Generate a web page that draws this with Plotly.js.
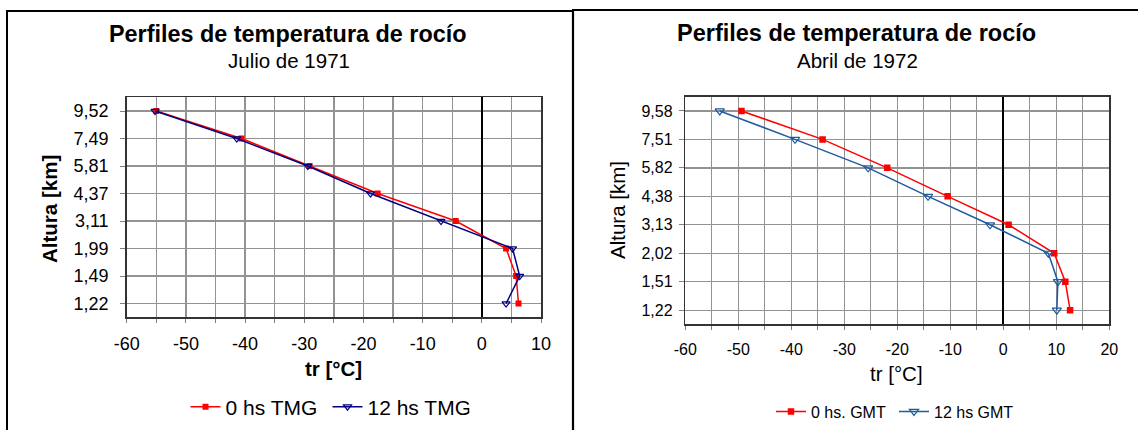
<!DOCTYPE html>
<html>
<head>
<meta charset="utf-8">
<script src="https://cdn.plot.ly/plotly-3.0.1.min.js"></script>
<style>
html,body{margin:0;padding:0;background:#fff;}
#chart{width:1138px;height:430px;}
</style>
</head>
<body>
<div id="chart"></div>
<script>
// ---- Data ----
var levelsJul = ['1,22','1,49','1,99','3,11','4,37','5,81','7,49','9,52'];
var jul0hs   = [6.2, 5.8, 4.1, -4.4, -17.6, -29.1, -40.6, -55.0];
var jul12hs  = [4.1, 6.4, 5.2, -6.9, -18.8, -29.4, -41.4, -55.2];

var levelsAbr = ['1,22','1,51','2,02','3,13','4,38','5,82','7,51','9,58'];
var abr0hs   = [12.6, 11.7, 9.6, 1.0, -10.5, -21.9, -34.1, -49.4];
var abr12hs  = [10.1, 10.3, 8.5, -2.5, -14.2, -25.5, -39.3, -53.5];

var xTicksLeft  = [-60,-55,-50,-45,-40,-35,-30,-25,-20,-15,-10,-5,0,5,10];
var xLabelsLeft = ['-60','','-50','','-40','','-30','','-20','','-10','','0','','10'];
var xTicksRight  = [-60,-55,-50,-45,-40,-35,-30,-25,-20,-15,-10,-5,0,5,10,15,20];
var xLabelsRight = ['-60','','-50','','-40','','-30','','-20','','-10','','0','','10','','20'];

// ---- Layout helpers ----
var W = 1138, H = 430;
function px(x){ return x / W; }
function py(y){ return 1 - y / H; }
var FONT = 'Liberation Sans, Arial, sans-serif';

var traces = [
  {x: jul0hs, y: levelsJul, name: '0 hs TMG', xaxis: 'x', yaxis: 'y', legend: 'legend',
   type: 'scatter', mode: 'lines+markers',
   line: {color: '#ff0000', width: 1.5},
   marker: {symbol: 'square', size: 6, color: '#ff0000'}},
  {x: jul12hs, y: levelsJul, name: '12 hs TMG', xaxis: 'x', yaxis: 'y', legend: 'legend',
   type: 'scatter', mode: 'lines+markers',
   line: {color: '#000080', width: 1.5},
   marker: {symbol: 'triangle-down-open', size: 7, color: '#000080', line: {width: 1.2, color: '#000080'}}},
  {x: abr0hs, y: levelsAbr, name: '0 hs. GMT', xaxis: 'x2', yaxis: 'y2', legend: 'legend2',
   type: 'scatter', mode: 'lines+markers',
   line: {color: '#ff0000', width: 1.5},
   marker: {symbol: 'square', size: 6.5, color: '#ff0000'}},
  {x: abr12hs, y: levelsAbr, name: '12 hs GMT', xaxis: 'x2', yaxis: 'y2', legend: 'legend2',
   type: 'scatter', mode: 'lines+markers',
   line: {color: '#1f5c9e', width: 1.5},
   marker: {symbol: 'triangle-down-open', size: 8, color: '#1f5c9e', line: {width: 1.2, color: '#1f5c9e'}}}
];

function xAxis(dom, range, tv, tt, fs, anchor){
  return {
    domain: dom, range: range, anchor: anchor, fixedrange: true,
    tickmode: 'array', tickvals: tv, ticktext: tt,
    ticks: 'outside', ticklen: 4, tickwidth: 1, tickcolor: '#808080',
    ticklabelstandoff: 6,
    tickfont: {family: FONT, size: fs, color: '#000'},
    showgrid: true, gridcolor: '#939393', gridwidth: 1.3,
    zeroline: true, zerolinecolor: '#000', zerolinewidth: 1.6,
    showline: true, linecolor: '#333', linewidth: 1.5, mirror: true
  };
}
function yAxis(dom, cats, fs, anchor, standoff){
  return {
    domain: dom, type: 'category', categoryorder: 'array', categoryarray: cats,
    range: [-0.5, 7.5], anchor: anchor, fixedrange: true,
    ticks: 'outside', ticklen: 5, tickwidth: 1, tickcolor: '#808080',
    ticklabelstandoff: standoff,
    tickfont: {family: FONT, size: fs, color: '#000'},
    showgrid: true, gridcolor: '#939393', gridwidth: 1.3,
    showline: true, linecolor: '#333', linewidth: 1.5, mirror: true
  };
}

var layout = {
  width: W, height: H,
  margin: {l: 0, r: 0, t: 0, b: 0},
  paper_bgcolor: '#fff', plot_bgcolor: '#fff',
  font: {family: FONT, color: '#000'},
  showlegend: true,
  xaxis: xAxis([px(126.7), px(541)], [-60, 10], xTicksLeft, xLabelsLeft, 18, 'y'),
  yaxis: yAxis([py(317.3), py(97.3)], levelsJul, 18, 'x', 8),
  xaxis2: xAxis([px(685.3), px(1109.3)], [-60, 20], xTicksRight, xLabelsRight, 16, 'y2'),
  yaxis2: yAxis([py(324.4), py(96.7)], levelsAbr, 16, 'x2', 3),
  legend: {orientation: 'h', x: px(185.5), y: py(407), xanchor: 'left', yanchor: 'middle',
           font: {family: FONT, size: 21, color: '#000'}, bgcolor: 'rgba(0,0,0,0)',
           entrywidth: 97, entrywidthmode: 'pixels'},
  legend2: {orientation: 'h', x: px(771), y: py(411.5), xanchor: 'left', yanchor: 'middle',
           font: {family: FONT, size: 16, color: '#000'}, bgcolor: 'rgba(0,0,0,0)',
           entrywidth: 78, entrywidthmode: 'pixels'},
  annotations: [
    {text: '<b>Perfiles de temperatura de rocío</b>', x: px(287.5), y: py(34), xref: 'paper', yref: 'paper',
     xanchor: 'center', yanchor: 'middle', showarrow: false, font: {family: FONT, size: 23.4, color: '#000'}},
    {text: 'Julio de 1971', x: px(289), y: py(60), xref: 'paper', yref: 'paper',
     xanchor: 'center', yanchor: 'middle', showarrow: false, font: {family: FONT, size: 20.5, color: '#000'}},
    {text: '<b>Perfiles de temperatura de rocío</b>', x: px(856.7), y: py(33.5), xref: 'paper', yref: 'paper',
     xanchor: 'center', yanchor: 'middle', showarrow: false, font: {family: FONT, size: 23.5, color: '#000'}},
    {text: 'Abril de 1972', x: px(857.5), y: py(60), xref: 'paper', yref: 'paper',
     xanchor: 'center', yanchor: 'middle', showarrow: false, font: {family: FONT, size: 20.5, color: '#000'}},
    {text: '<b>Altura [km]</b>', x: px(50), y: py(209), xref: 'paper', yref: 'paper', textangle: -90,
     xanchor: 'center', yanchor: 'middle', showarrow: false, font: {family: FONT, size: 20.5, color: '#000'}},
    {text: 'Altura [km]', x: px(617), y: py(210), xref: 'paper', yref: 'paper', textangle: -90,
     xanchor: 'center', yanchor: 'middle', showarrow: false, font: {family: FONT, size: 20.5, color: '#000'}},
    {text: '<b>tr [°C]</b>', x: px(333), y: py(368), xref: 'paper', yref: 'paper',
     xanchor: 'center', yanchor: 'middle', showarrow: false, font: {family: FONT, size: 20.5, color: '#000'}},
    {text: 'tr [°C]', x: px(896), y: py(373), xref: 'paper', yref: 'paper',
     xanchor: 'center', yanchor: 'middle', showarrow: false, font: {family: FONT, size: 20.5, color: '#000'}}
  ],
  shapes: [
    {type: 'line', xref: 'paper', yref: 'paper', x0: px(7), x1: px(7), y0: py(11), y1: py(432), line: {color: '#000', width: 2}},
    {type: 'line', xref: 'paper', yref: 'paper', x0: px(6), x1: px(573), y0: py(11), y1: py(11), line: {color: '#000', width: 2}},
    {type: 'line', xref: 'paper', yref: 'paper', x0: px(573), x1: px(573), y0: py(10), y1: py(432), line: {color: '#000', width: 2.2}},
    {type: 'line', xref: 'paper', yref: 'paper', x0: px(572), x1: px(1140), y0: py(10), y1: py(10), line: {color: '#000', width: 2}}
  ]
};

Plotly.newPlot('chart', traces, layout, {displayModeBar: false, staticPlot: true});
</script>
</body>
</html>
